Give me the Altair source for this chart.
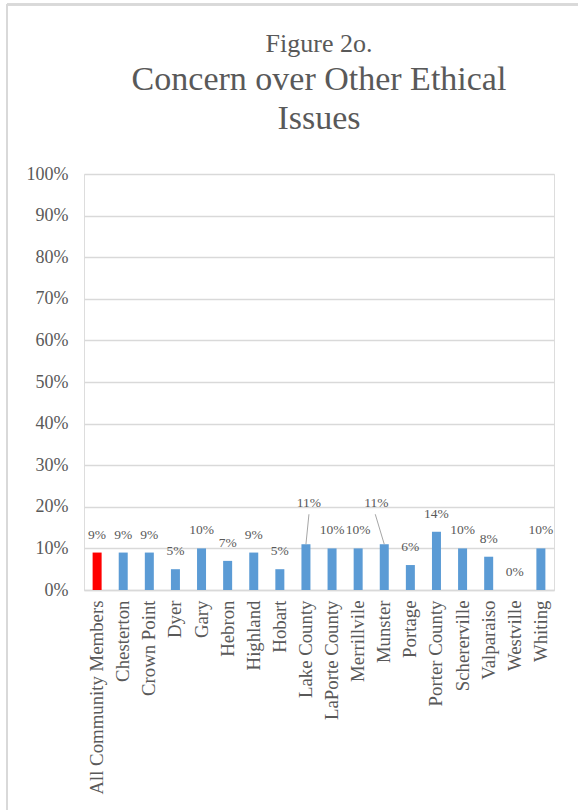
import altair as alt
import pandas as pd

categories = ["All Community Members", "Chesterton", "Crown Point", "Dyer", "Gary",
              "Hebron", "Highland", "Hobart", "Lake County", "LaPorte County",
              "Merrillvile", "Munster", "Portage", "Porter County", "Schererville",
              "Valparaiso", "Westville", "Whiting"]
values = [0.09, 0.09, 0.09, 0.05, 0.10, 0.07, 0.09, 0.05, 0.11, 0.10,
          0.10, 0.11, 0.06, 0.14, 0.10, 0.08, 0.00, 0.10]
highlight = ["All Community Members"]
leader_labels = ["Lake County", "Munster"]

df = pd.DataFrame({"cat": categories, "value": values})
df["group"] = ["red" if c in highlight else "blue" for c in categories]

FONT = "Liberation Serif"
GRAY = "#595959"

x = alt.X("cat:N", sort=categories, title=None,
          scale=alt.Scale(paddingInner=0.655, paddingOuter=0.33),
          axis=alt.Axis(labelAngle=-90, labelFont=FONT, labelFontSize=18.8,
                        labelColor=GRAY, ticks=False, labelPadding=10,
                        domainColor="#d9d9d9", domainWidth=1.5, labelLimit=400))
y = alt.Y("value:Q", title=None,
          scale=alt.Scale(domain=[0, 1]),
          axis=alt.Axis(format=".0%", values=[i / 10 for i in range(11)],
                        labelFont=FONT, labelFontSize=18, labelColor=GRAY,
                        ticks=False, domain=False, labelPadding=16,
                        gridColor="#d9d9d9", gridWidth=1.5))

base = alt.Chart(df)
xs = alt.X("cat:N", sort=categories)

bars = base.mark_bar().encode(
    x=x, y=y,
    color=alt.Color("group:N", scale=alt.Scale(domain=["red", "blue"],
                                                range=["#ff0000", "#5b9bd5"]),
                    legend=None),
)

normal = base.transform_filter(
    ~alt.FieldOneOfPredicate(field="cat", oneOf=leader_labels)
).mark_text(font=FONT, fontSize=13.5, color=GRAY, dy=-18).encode(
    x=xs, y="value:Q", text=alt.Text("value:Q", format=".0%"))

lake = base.transform_filter(alt.datum.cat == "Lake County").mark_text(
    font=FONT, fontSize=13.5, color=GRAY, dy=-41, dx=3).encode(
    x=xs, y="value:Q", text=alt.Text("value:Q", format=".0%"))
mun = base.transform_filter(alt.datum.cat == "Munster").mark_text(
    font=FONT, fontSize=13.5, color=GRAY, dy=-41, dx=-8).encode(
    x=xs, y="value:Q", text=alt.Text("value:Q", format=".0%"))

lake_line = base.transform_filter(alt.datum.cat == "Lake County").mark_rule(
    color="#a6a6a6", strokeWidth=1, y2Offset=-30, x2Offset=3).encode(
    x=xs, x2=alt.X2("cat:N"), y="value:Q", y2=alt.Y2("value:Q"))
mun_line = base.transform_filter(alt.datum.cat == "Munster").mark_rule(
    color="#a6a6a6", strokeWidth=1, y2Offset=-30, x2Offset=-9).encode(
    x=xs, x2=alt.X2("cat:N"), y="value:Q", y2=alt.Y2("value:Q"))

border = alt.Chart(df).mark_rule(color="#d9d9d9", strokeWidth=2).encode(
    x=alt.value(-77), x2=alt.value(500), y=alt.value(-169.5), y2=alt.value(-169.5))
border2 = alt.Chart(df).mark_rule(color="#d9d9d9", strokeWidth=2).encode(
    x=alt.value(-77), x2=alt.value(-77), y=alt.value(-169.5), y2=alt.value(640))

chart = alt.layer(bars, lake_line, mun_line, normal, lake, mun, border, border2).properties(
    width=470, height=416,
    autosize=alt.AutoSizeParams(type="none"),
    title=alt.TitleParams(
        text="Figure 2o.",
        subtitle=["Concern over Other Ethical", "Issues"],
        font=FONT, fontSize=26, fontWeight="normal", color=GRAY,
        subtitleFont=FONT, subtitleFontSize=34, subtitleColor=GRAY,
        subtitleLineHeight=39, anchor="middle", offset=0, subtitlePadding=6,
        dy=132),
    padding={"left": 84, "top": 174, "right": 24, "bottom": 220},
).configure_view(stroke=None).configure(background="white")

chart.save("out.html", embed_options={"renderer": "svg", "actions": False})
